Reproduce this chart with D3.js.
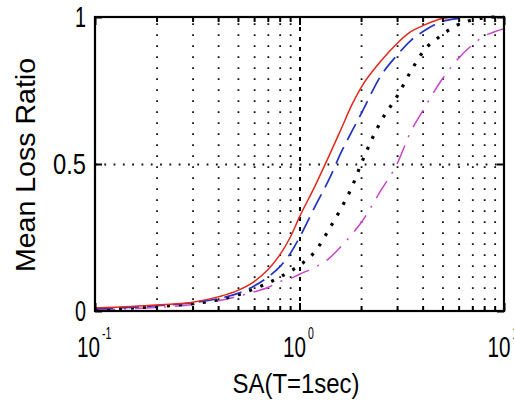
<!DOCTYPE html>
<html><head><meta charset="utf-8">
<script src="https://cdn.jsdelivr.net/npm/d3@7"></script>
<style>
html,body{margin:0;padding:0;background:#fff;}
svg{display:block;}
text{font-family:"Liberation Sans",Arial,Helvetica,sans-serif;fill:#000;}
</style>
</head><body>
<svg id="chart" width="514" height="404"></svg>
<script>
// ---- data ----
const sa        = [0.1, 0.15, 0.2, 0.3, 0.4, 0.5, 0.6, 0.7, 0.8, 0.9, 1.0, 1.2, 1.4, 1.6, 1.8, 2.0, 2.5, 3.0, 3.5, 4.0, 5.0, 6.0, 7.0, 8.0, 9.0, 10];
const redMLR    = [0.010,0.015,0.020,0.030,0.048,0.070,0.100,0.140,0.190,0.250,0.320,0.430,0.530,0.620,0.700,0.760,0.850,0.910,0.950,0.970,0.995,1.000,1.000,1.000,1.000,1.000];
const blueMLR   = [0.008,0.012,0.018,0.028,0.042,0.060,0.085,0.115,0.150,0.195,0.250,0.360,0.450,0.540,0.610,0.670,0.800,0.870,0.920,0.950,0.985,0.995,1.000,1.000,1.000,1.000];
const blackMLR  = [0.006,0.010,0.015,0.025,0.038,0.055,0.075,0.095,0.115,0.135,0.155,0.205,0.280,0.350,0.420,0.500,0.645,0.730,0.815,0.880,0.940,0.975,0.990,0.997,1.000,1.000];
const magMLR    = [0.005,0.008,0.012,0.022,0.035,0.050,0.065,0.080,0.100,0.110,0.125,0.150,0.180,0.220,0.260,0.300,0.410,0.500,0.610,0.680,0.790,0.860,0.905,0.935,0.950,0.960];

const xMajorTicks = [0.1, 1, 10];
const xMajorExp   = ["-1", "0", "1"];
const xMinorTicks = [0.2,0.3,0.4,0.5,0.6,0.7,0.8,0.9,2,3,4,5,6,7,8,9];
const yTicks      = [0, 0.5, 1];
const yTickLabels = ["0", "0.5", "1"];
const xLabel = "SA(T=1sec)";
const yLabel = "Mean Loss Ratio";

// ---- layout ----
const W = 514, H = 404;
const L = 95, R = 504, T = 17, B = 311;
const svg = d3.select("#chart");
svg.append("rect").attr("width", W).attr("height", H).attr("fill", "#fff");

const x = d3.scaleLog().domain([0.1, 10]).range([L, R]);
const y = d3.scaleLinear().domain([0, 1]).range([B, T]);

// grid (vertical, minor)
const gv = svg.append("g").attr("transform", `translate(0,${B})`)
  .call(d3.axisBottom(x).tickValues(xMinorTicks).tickSize(-(B - T)).tickFormat(""));
gv.select(".domain").remove();
gv.selectAll("line").attr("stroke", "#111").attr("stroke-width", 1.8).attr("stroke-dasharray", "1.8,9.2");
// grid (vertical, major at 10^0)
const gvm = svg.append("g").attr("transform", `translate(0,${B})`)
  .call(d3.axisBottom(x).tickValues([1]).tickSize(-(B - T)).tickFormat(""));
gvm.select(".domain").remove();
gvm.selectAll("line").attr("stroke", "#000").attr("stroke-width", 2).attr("stroke-dasharray", "4,6");
// grid (horizontal at 0.5)
const gh = svg.append("g").attr("transform", `translate(${L},0)`)
  .call(d3.axisLeft(y).tickValues([0.5]).tickSize(-(R - L)).tickFormat(""));
gh.select(".domain").remove();
gh.selectAll("line").attr("stroke", "#111").attr("stroke-width", 1.8).attr("stroke-dasharray", "1.8,7.5");

// curves
svg.append("clipPath").attr("id", "clip").append("rect")
  .attr("x", L).attr("y", T - 2).attr("width", R - L).attr("height", B - T + 2);
const line = d3.line().x((d, i) => x(sa[i])).y(d => y(d)).curve(d3.curveMonotoneX);
const series = [
  {vals: magMLR,   color: "#c844c8", w: 1.5, dash: "20,9,2,9"},
  {vals: blackMLR, color: "#000000", w: 3.2, dash: "3,9"},
  {vals: blueMLR,  color: "#2233c4", w: 1.7, dash: "18,8"},
  {vals: redMLR,   color: "#e2281a", w: 1.5, dash: null}
];
const gc = svg.append("g").attr("clip-path", "url(#clip)");
series.forEach(s => {
  gc.append("path").attr("d", line(s.vals)).attr("fill", "none")
    .attr("stroke", s.color).attr("stroke-width", s.w)
    .attr("stroke-dasharray", s.dash);
});

// ticks (inward, all four sides)
function tickAxis(axisFn, scale, vals, len, tx, ty) {
  const g = svg.append("g").attr("transform", `translate(${tx},${ty})`)
    .call(axisFn(scale).tickValues(vals).tickSizeInner(-len).tickSizeOuter(0).tickFormat(""));
  g.select(".domain").remove();
  g.selectAll("line").attr("stroke", "#000").attr("stroke-width", 2);
}
tickAxis(d3.axisBottom, x, xMajorTicks, 8, 0, B);
tickAxis(d3.axisBottom, x, xMinorTicks, 5, 0, B);
tickAxis(d3.axisTop, x, xMajorTicks, 8, 0, T);
tickAxis(d3.axisTop, x, xMinorTicks, 5, 0, T);
tickAxis(d3.axisLeft, y, yTicks, 7, L, 0);
tickAxis(d3.axisRight, y, yTicks, 7, R, 0);

// box
svg.append("rect").attr("x", L).attr("y", T).attr("width", R - L).attr("height", B - T)
  .attr("fill", "none").attr("stroke", "#000").attr("stroke-width", 2.2);

// y tick labels
const yLabW = {"0": 11, "0.5": 33, "1": 11};
yTicks.forEach((v, i) => {
  svg.append("text").attr("x", 86).attr("y", y(v) + 10)
    .attr("text-anchor", "end").attr("font-size", 29)
    .attr("textLength", yLabW[yTickLabels[i]]).attr("lengthAdjust", "spacingAndGlyphs")
    .text(yTickLabels[i]);
});

// x tick labels (10^n): base and exponent as separate, horizontally condensed texts
xMajorTicks.forEach((v, i) => {
  const supW = xMajorExp[i].length > 1 ? 11 : 8;
  const total = 23 + 2 + supW;
  const x0 = Math.min(x(v) - total / 2, 489);
  svg.append("text").attr("transform", `translate(${x0},357) scale(0.69,1)`)
    .attr("font-size", 30).text("10");
  svg.append("text").attr("transform", `translate(${x0 + 25},339) scale(0.62,1)`)
    .attr("font-size", 17).text(xMajorExp[i]);
});

// axis labels
svg.append("text").attr("x", 296).attr("y", 393).attr("text-anchor", "middle")
  .attr("font-size", 27).attr("textLength", 127).attr("lengthAdjust", "spacingAndGlyphs")
  .text(xLabel);
svg.append("text").attr("transform", "translate(35,165) rotate(-90)").attr("text-anchor", "middle")
  .attr("font-size", 28).attr("textLength", 214).attr("lengthAdjust", "spacingAndGlyphs")
  .text(yLabel);
</script>
</body></html>
